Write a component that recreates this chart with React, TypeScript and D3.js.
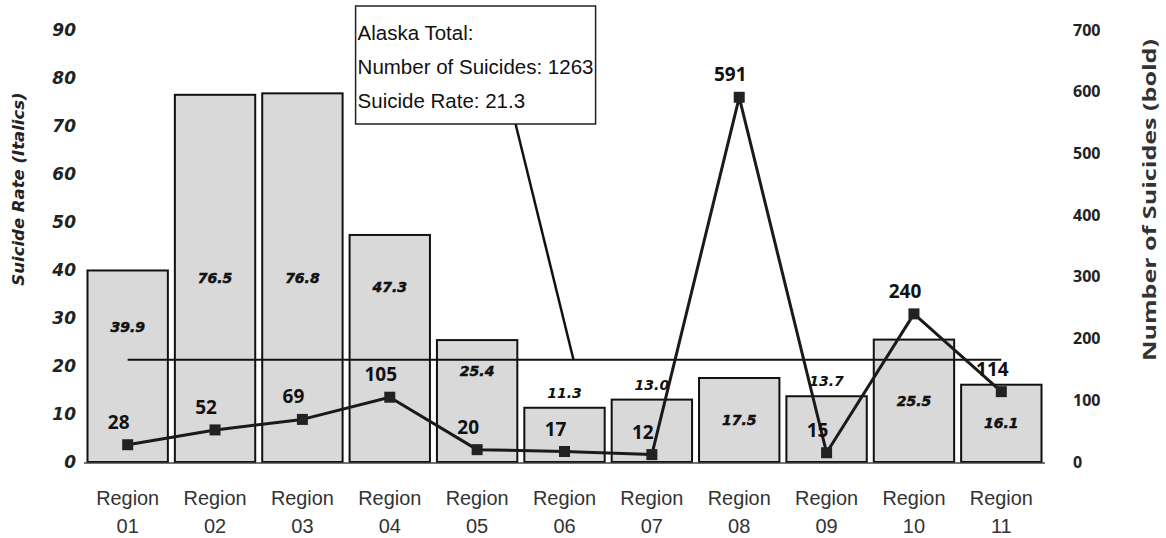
import * as d3 from "d3";

// values
const regions = ["01", "02", "03", "04", "05", "06", "07", "08", "09", "10", "11"];
const suicideRates = [39.9, 76.5, 76.8, 47.3, 25.4, 11.3, 13.0, 17.5, 13.7, 25.5, 16.1];
const suicideCounts = [28, 52, 69, 105, 20, 17, 12, 591, 15, 240, 114];
const rateTicks = [0, 10, 20, 30, 40, 50, 60, 70, 80, 90];
const countTicks = [0, 100, 200, 300, 400, 500, 600, 700];
const alaskaTotal = { suicides: 1263, rate: 21.3 };

const width = 1166;
const height = 538;
const plotTop = 30;
const plotBottom = 462;

export default function App() {
  const x = d3.scaleBand<string>().domain(regions).range([84, 1045]).paddingInner(0.08).paddingOuter(0.04);
  const yRate = d3.scaleLinear().domain([0, 90]).range([plotBottom, plotTop]);
  const yCount = d3.scaleLinear().domain([0, 700]).range([plotBottom, plotTop]);
  const cx = (r: string) => (x(r) ?? 0) + x.bandwidth() / 2;

  const points = regions.map((r, i) => ({ region: r, rate: suicideRates[i], count: suicideCounts[i] }));

  const line = d3
    .line<(typeof points)[number]>()
    .x((d) => cx(d.region))
    .y((d) => yCount(d.count));

  const avgY = yRate(alaskaTotal.rate);
  const boxX = (x("04") ?? 0) + 6;
  const boxY = 6;
  const boxW = 240;
  const boxH = 118;

  return (
    <svg
      width={width}
      height={height}
      style={{ position: "absolute", left: 0, top: 0, background: "#fff" }}
    >
      {/* rate bars */}
      {points.map((d) => {
        const top = yRate(d.rate);
        const barX = x(d.region) ?? 0;
        const countTop = yCount(d.count) - 32;
        const inside = d.rate >= 15;
        let labelY = (top + plotBottom) / 2;
        // move the rate label up when the count label sits close under it
        if (inside && countTop > top && countTop - labelY < 60) {
          labelY = top + (countTop - top) * 0.4;
        }
        return (
          <g key={`bar-${d.region}`}>
            <rect
              x={barX}
              y={top}
              width={x.bandwidth()}
              height={plotBottom - top}
              fill="#d9d9d9"
              stroke="#111"
              strokeWidth={2}
            />
            <text
              x={barX + x.bandwidth() / 2}
              y={inside ? labelY : top - 10}
              dy={inside ? "0.35em" : 0}
              textAnchor="middle"
              fontFamily="DejaVu Sans, Verdana, sans-serif"
              fontSize={14}
              fontStyle="italic"
              fontWeight="bold"
              fill="#111"
              stroke={inside ? "#111" : "none"}
              strokeWidth={0.5}
            >
              {d.rate.toFixed(1)}
            </text>
          </g>
        );
      })}

      <line x1={84} x2={1045} y1={plotBottom + 1} y2={plotBottom + 1} stroke="#444" strokeWidth={1.5} />

      {/* Alaska average rate */}
      <line x1={cx("01")} x2={cx("11")} y1={avgY} y2={avgY} stroke="#111" strokeWidth={1.8} />

      {/* count line */}
      <path d={line(points) ?? ""} fill="none" stroke="#1a1a1a" strokeWidth={3} strokeLinejoin="round" />
      {points.map((d) => (
        <rect
          key={`m-${d.region}`}
          x={cx(d.region) - 5.5}
          y={yCount(d.count) - 5.5}
          width={11}
          height={11}
          fill="#222"
        />
      ))}
      {points.map((d) => (
        <text
          key={`c-${d.region}`}
          x={cx(d.region) - 9}
          y={yCount(d.count) - 16}
          textAnchor="middle"
          fontFamily="Open Sans, Lato, sans-serif"
          fontWeight={700}
          fontSize={19}
          fill="#111"
        >
          {d.count}
        </text>
      ))}

      {/* annotation */}
      <line x1={boxX + 160} y1={boxY + boxH} x2={cx("06") + 9} y2={avgY} stroke="#111" strokeWidth={2.5} />
      <rect x={boxX} y={boxY} width={boxW} height={boxH} fill="#fff" stroke="#222" strokeWidth={1.5} />
      <g fontFamily="Liberation Sans, Arial, sans-serif" fontSize={20.5} fill="#111">
        <text x={boxX + 2} y={boxY + 34}>Alaska Total:</text>
        <text x={boxX + 2} y={boxY + 68}>Number of Suicides: {alaskaTotal.suicides}</text>
        <text x={boxX + 2} y={boxY + 102}>Suicide Rate: {alaskaTotal.rate}</text>
      </g>

      {/* left axis */}
      {rateTicks.map((t) => (
        <text
          key={`lt-${t}`}
          x={76}
          y={yRate(t)}
          dy="0.35em"
          textAnchor="end"
          fontFamily="DejaVu Sans, Verdana, sans-serif"
          fontSize={17}
          fontStyle="italic"
          fontWeight="bold"
          fill="#222"
        >
          {t}
        </text>
      ))}
      <text
        transform={`translate(24, 189) rotate(-90)`}
        textAnchor="middle"
        fontFamily="DejaVu Sans, Verdana, sans-serif"
        fontSize={16.5}
        fontStyle="italic"
        fontWeight="bold"
        fill="#222"
      >
        Suicide Rate (Italics)
      </text>

      {/* right axis */}
      {countTicks.map((t) => (
        <text
          key={`rt-${t}`}
          x={1073}
          y={yCount(t)}
          dy="0.35em"
          textAnchor="start"
          fontFamily="Open Sans, Lato, sans-serif"
          fontSize={16}
          fontWeight={700}
          fill="#222"
        >
          {t}
        </text>
      ))}
      <text
        transform={`translate(1150, 200) rotate(-90)`}
        textAnchor="middle"
        dy="0.35em"
        fontFamily="Open Sans, Lato, sans-serif"
        fontSize={18}
        fontWeight={700}
        textLength={322}
        lengthAdjust="spacingAndGlyphs"
        fill="#333"
      >
        Number of Suicides (bold)
      </text>

      {/* x axis labels */}
      {regions.map((r) => (
        <text
          key={`x-${r}`}
          textAnchor="middle"
          fontFamily="Liberation Sans Narrow, Liberation Sans, Arial Narrow, sans-serif"
          fontSize={20}
          fill="#333"
        >
          <tspan x={cx(r)} y={505} textLength={63} lengthAdjust="spacingAndGlyphs">
            Region
          </tspan>
          <tspan x={cx(r)} y={533}>{r}</tspan>
        </text>
      ))}
    </svg>
  );
}
